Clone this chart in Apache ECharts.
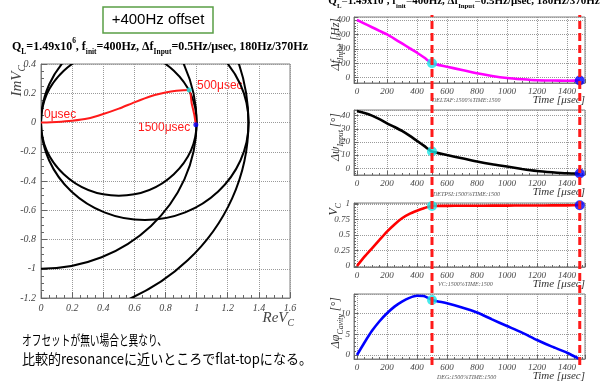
<!DOCTYPE html>
<html>
<head>
<meta charset="utf-8">
<script src="https://cdn.jsdelivr.net/npm/echarts@6/dist/echarts.min.js"></script>
<style>
  html, body { margin: 0; padding: 0; background: #fff; }
  #chart { width: 600px; height: 385px; }
</style>
</head>
<body>
<div id="chart"></div>
<script>
// 右側4パネルの時系列データ
const timeUs = [0, 50, 100, 150, 200, 250, 300, 350, 400, 450, 500, 600, 700, 800, 900, 1000, 1100, 1200, 1300, 1400, 1485]
const deltaFInput = [400, 375, 350, 325, 300, 270, 238, 205, 173, 138, 100, 76, 53, 30, 12, -2, -11, -18, -20, -21, -20]
const deltaPsiInput = [43.5, 42, 40, 37.3, 34.2, 31.4, 28.4, 24.8, 20.8, 16.8, 12.7, 10.1, 7.6, 5.1, 3.0, 1.3, -0.5, -2.0, -3.0, -3.8, -4.0]
const vcAmp = [0, 0.15, 0.285, 0.42, 0.554, 0.67, 0.77, 0.84, 0.89, 0.935, 0.968, 0.97, 0.971, 0.972, 0.973, 0.974, 0.975, 0.976, 0.977, 0.978, 0.98]
const phiCavity = [0, 3.0, 5.8, 8.1, 10.0, 11.6, 12.8, 13.7, 14.2, 14.1, 13.2, 12.4, 11.4, 10.2, 8.55, 6.95, 5.35, 3.6, 2.0, 0.55, -1.0]
const markTimes = [500, 1485]
const markColors = ['#19e6e6', '#0000ff']

// 左側 Vc の複素平面上の軌跡
const reVc = [0, 0.1, 0.2, 0.3, 0.4, 0.5, 0.6, 0.7, 0.8, 0.87, 0.952, 0.968, 0.985, 0.995]
const imVc = [0, 0.004, 0.012, 0.027, 0.058, 0.095, 0.138, 0.178, 0.205, 0.217, 0.222, 0.132, 0.053, -0.016]
const phasorMarkIdx = [10, 13]

// 参照円（中心の実部と半径）
const circleCx = [0.5, 0.667, 0, 0]
const circleR = [0.5, 0.667, 1, 1.333]

const SERIF = 'Liberation Serif'
const SANS = 'Liberation Sans'
const JP = 'Noto Sans CJK JP'
const RED = '#ff1a1a'

const chart = echarts.init(document.getElementById('chart'))

// 右パネルの配置
const panelTops = [17, 110, 203, 294]
const panelHeights = [66, 65, 64, 65]
const panelY = [
  { min: -37, max: 421, step: 100 },
  { min: -5.1, max: 44.3, step: 10 },
  { min: -0.016, max: 1.016, step: 0.25 },
  { min: -0.96, max: 14.63, step: 5 }
]
const panelValues = [deltaFInput, deltaPsiInput, vcAmp, phiCavity]
const panelColors = ['#ff00ff', '#000000', '#ff0000', '#0000ff']

const plain = (v) => String(v)
const dotted = { show: true, lineStyle: { color: '#9a9a9a', type: 'dotted', width: 1 } }
const frameLine = { show: true, onZero: false, lineStyle: { color: '#808080', width: 1 } }
const tickStyle = { lineStyle: { color: '#666' } }
const labelStyle = (size) => ({ fontFamily: SERIF, fontStyle: 'italic', fontSize: size, color: '#444', formatter: plain })

const grids = [{ left: 41, top: 64, width: 249, height: 234, show: true, borderColor: '#808080', borderWidth: 1 }]
const xAxes = [{
  gridIndex: 0, type: 'value', min: 0, max: 1.6, interval: 0.2,
  axisLine: frameLine,
  axisTick: { inside: true, length: 6, ...tickStyle },
  minorTick: { show: true, splitNumber: 4, length: 3, ...tickStyle },
  splitLine: dotted,
  axisLabel: { ...labelStyle(10), margin: 5 }
}]
const yAxes = [{
  gridIndex: 0, type: 'value', min: -1.2, max: 0.4, interval: 0.2,
  axisLine: frameLine,
  axisTick: { inside: true, length: 6, ...tickStyle },
  minorTick: { show: true, splitNumber: 4, length: 3, ...tickStyle },
  splitLine: dotted,
  axisLabel: { ...labelStyle(10), margin: 5 }
}]

const series = [
  {
    type: 'custom',
    xAxisIndex: 0, yAxisIndex: 0,
    data: circleCx.map((cx, k) => [cx, 0, circleR[k]]),
    renderItem: (params, api) => {
      const c = api.coord([api.value(0), api.value(1)])
      const s = api.size([api.value(2), api.value(2)])
      const cs = params.coordSys
      return {
        type: 'ellipse',
        shape: { cx: c[0], cy: c[1], rx: s[0], ry: s[1] },
        style: { fill: 'none', stroke: '#000', lineWidth: 2 },
        clipPath: { type: 'rect', shape: { x: cs.x, y: cs.y, width: cs.width, height: cs.height } }
      }
    },
    silent: true
  },
  {
    type: 'line', xAxisIndex: 0, yAxisIndex: 0,
    data: reVc.map((r, k) => [r, imVc[k]]),
    showSymbol: false, smooth: 0.2,
    lineStyle: { color: RED, width: 2 },
    z: 3, silent: true
  },
  {
    type: 'scatter', xAxisIndex: 0, yAxisIndex: 0,
    data: phasorMarkIdx.map((i, k) => ({ value: [reVc[i], imVc[i]], itemStyle: { color: markColors[k] } })),
    symbolSize: 5, z: 4, silent: true
  }
]

panelTops.forEach((top, p) => {
  const gi = p + 1
  grids.push({ left: 354, width: 231, top, height: panelHeights[p], show: true, borderColor: '#808080', borderWidth: 1 })
  xAxes.push({
    gridIndex: gi, type: 'value', min: -20, max: 1520, minInterval: 200, maxInterval: 200,
    axisLine: frameLine,
    axisTick: { inside: true, length: 4, ...tickStyle },
    minorTick: { show: true, splitNumber: 4, length: 2, ...tickStyle },
    splitLine: dotted,
    axisLabel: { ...labelStyle(9), margin: 4, showMinLabel: false, showMaxLabel: false }
  })
  const py = panelY[p]
  yAxes.push({
    gridIndex: gi, type: 'value', min: py.min, max: py.max, minInterval: py.step, maxInterval: py.step,
    axisLine: frameLine,
    axisTick: { inside: true, length: 4, ...tickStyle },
    minorTick: { show: true, splitNumber: 5, length: 2, ...tickStyle },
    splitLine: dotted,
    axisLabel: { ...labelStyle(9), margin: 4, showMinLabel: false, showMaxLabel: false }
  })
  const vals = panelValues[p]
  series.push({
    type: 'line', xAxisIndex: gi, yAxisIndex: gi,
    data: timeUs.map((t, k) => [t, vals[k]]),
    showSymbol: false, smooth: 0.2,
    lineStyle: { color: panelColors[p], width: 2.6 },
    z: 3, silent: true
  })
  series.push({
    type: 'scatter', xAxisIndex: gi, yAxisIndex: gi,
    data: markTimes.map((t, k) => ({ value: [t, vals[timeUs.indexOf(t)]], itemStyle: { color: markColors[k] } })),
    symbolSize: 10, z: 4, silent: true
  })
})

// 縦の赤破線用の見えないグリッド
grids.push({ left: 354, width: 231, top: 15, height: 350 })
xAxes.push({ gridIndex: 5, type: 'value', min: -20, max: 1520, show: false })
yAxes.push({ gridIndex: 5, type: 'value', min: 0, max: 1, show: false })
markTimes.forEach((t) => {
  series.push({
    type: 'line', xAxisIndex: 5, yAxisIndex: 5,
    data: [[t, 0], [t, 1]],
    showSymbol: false,
    lineStyle: { color: RED, width: 3, type: [8, 4] },
    z: 5, silent: true
  })
})

// 日本語テキストの幅合わせ
const fitScale = (text, font, target) => {
  const ctx = document.createElement('canvas').getContext('2d')
  ctx.font = font
  return target / ctx.measureText(text).width
}
const jpLine1 = 'オフセットが無い場合と異なり、'
const jpLine2 = '比較的resonanceに近いところでflat-topになる。'
const jpFont = '14px "' + JP + '"'

const richSerif = (size, weight) => ({
  b: { fontSize: size, fontFamily: SERIF, fontWeight: weight, fontStyle: 'normal', lineHeight: size + 6 },
  s: { fontSize: size * 0.62, fontFamily: SERIF, fontWeight: weight, verticalAlign: 'bottom', lineHeight: size * 0.62 },
  p: { fontSize: size * 0.62, fontFamily: SERIF, fontWeight: weight, verticalAlign: 'top', lineHeight: size * 0.62 }
})
const titleText = '{b|Q}{s|L}{b|=1.49x10}{p|6}{b|, f}{s|init}{b|=400Hz, Δf}{s|Input}{b|=0.5Hz/μsec, 180Hz/370Hz}'

const italicRich = (size) => ({
  b: { fontSize: size, fontFamily: SERIF, fontStyle: 'italic', lineHeight: size + 5 },
  s: { fontSize: size * 0.65, fontFamily: SERIF, fontStyle: 'italic', verticalAlign: 'bottom', lineHeight: size * 0.65 }
})

const yTitle = (text, x, y) => ({
  type: 'text', x, y, rotation: Math.PI / 2,
  style: { text, rich: italicRich(12), fill: '#333', align: 'right', verticalAlign: 'middle' }
})
const timeTitle = (y) => ({
  type: 'text', x: 585, y,
  style: { text: 'Time [μsec]', fontFamily: SERIF, fontStyle: 'italic', fontSize: 11, fill: '#333', align: 'right', verticalAlign: 'middle' }
})
const tinyText = (text, x, y) => ({
  type: 'text', x, y,
  style: { text, fontFamily: SERIF, fontStyle: 'italic', fontSize: 6, fill: '#555', align: 'left', verticalAlign: 'middle' }
})
const redText = (text, x, y) => ({
  type: 'text', x, y,
  style: { text, fontFamily: SANS, fontSize: 12, fill: RED, align: 'left', verticalAlign: 'middle' }
})

const graphic = [
  { type: 'rect', shape: { x: 103, y: 7, width: 110, height: 26 }, style: { fill: '#fff', stroke: '#5a9e46', lineWidth: 1.5 } },
  { type: 'text', x: 158, y: 20, style: { text: '+400Hz offset', fontFamily: SANS, fontSize: 15, fill: '#000', align: 'center', verticalAlign: 'middle' } },
  { type: 'text', x: 160, y: 47, style: { text: titleText, rich: richSerif(12, 'bold'), fill: '#000', align: 'center', verticalAlign: 'middle' } },
  { type: 'text', x: 464, y: 1, style: { text: titleText, rich: richSerif(11, 'bold'), fill: '#000', align: 'center', verticalAlign: 'middle' } },
  { type: 'text', x: 17, y: 65, rotation: Math.PI / 2, style: { text: '{b|ImV}{s|C}', rich: italicRich(15), fill: '#444', align: 'right', verticalAlign: 'middle' } },
  { type: 'text', x: 294, y: 318, style: { text: '{b|ReV}{s|C}', rich: italicRich(15), fill: '#444', align: 'right', verticalAlign: 'middle' } },
  redText('0μsec', 44, 115),
  redText('500μsec', 197, 86),
  redText('1500μsec', 138, 128),
  yTitle('{b|Δf}{s|Input}{b| [Hz]}', 336, 18),
  yTitle('{b|Δψ}{s|Input}{b| [°]}', 336, 113),
  yTitle('{b|V}{s|C}', 334, 203),
  yTitle('{b|Δφ}{s|Cavity}{b| [°]}', 336, 297),
  timeTitle(100), timeTitle(192), timeTitle(284), timeTitle(376),
  tinyText('DELTAF:1500%TIME:1500', 432, 100),
  tinyText('DETPSI:1500%TIME:1500', 433, 194),
  tinyText('VC:1500%TIME:1500', 438, 284),
  tinyText('DEG:1500%TIME:1500', 437, 377),
  { type: 'text', x: 22, y: 340, scaleX: fitScale(jpLine1, jpFont, 145), style: { text: jpLine1, fontFamily: JP, fontSize: 14, fill: '#000', align: 'left', verticalAlign: 'middle' } },
  { type: 'text', x: 22, y: 359, scaleX: fitScale(jpLine2, jpFont, 290), style: { text: jpLine2, fontFamily: JP, fontSize: 14, fill: '#000', align: 'left', verticalAlign: 'middle' } }
]

chart.setOption({
  animation: false,
  backgroundColor: '#fff',
  grid: grids,
  xAxis: xAxes,
  yAxis: yAxes,
  series,
  graphic
})
</script>
</body>
</html>
